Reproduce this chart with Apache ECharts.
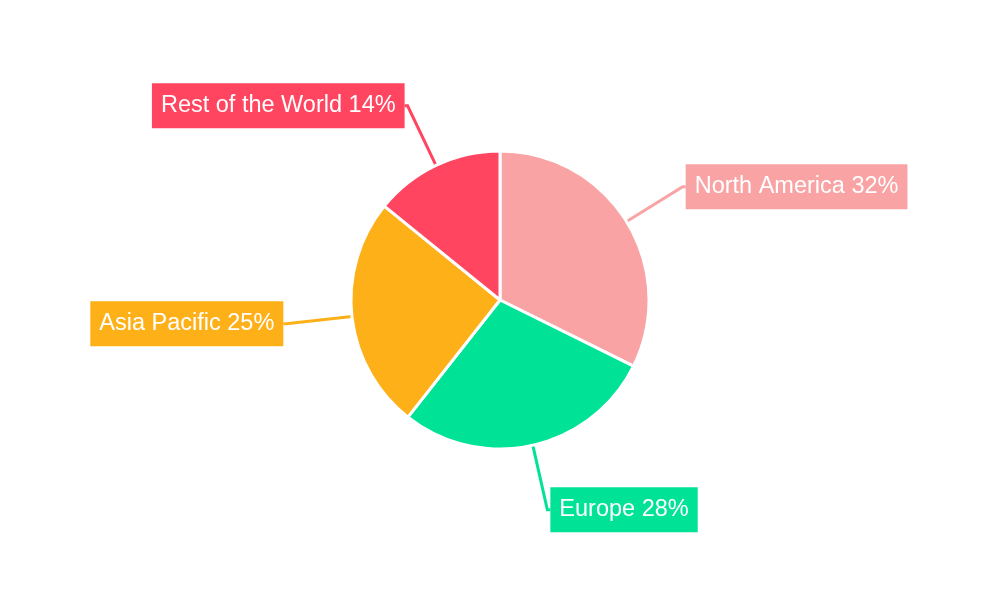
<!DOCTYPE html>
<html>
<head>
<meta charset="utf-8">
<script src="https://cdn.jsdelivr.net/npm/echarts@6/dist/echarts.min.js"></script>
<style>html,body{margin:0;background:#fff}#chart{width:1000px;height:600px}</style>
</head>
<body>
<div id="chart"></div>
<script>
const regions = ['North America', 'Europe', 'Asia Pacific', 'Rest of the World'];
const shares = [32, 28, 25, 14];
const colors = ['#f9a3a4', '#00e396', '#feb019', '#ff4560'];

const chart = echarts.init(document.getElementById('chart'));
chart.setOption({
  animation: false,
  series: [{
    type: 'pie',
    center: ['50%', '50%'],
    radius: 149,
    startAngle: 90,
    data: regions.map((name, i) => ({
      name, value: shares[i],
      itemStyle: { color: colors[i] },
      label: { backgroundColor: colors[i] }
    })),
    itemStyle: { borderColor: '#fff', borderWidth: 3 },
    label: {
      formatter: '{b} {c}%',
      color: '#fff',
      fontSize: 23.5,
      fontFamily: 'Liberation Sans, Arial, sans-serif',
      padding: [11, 9, 10, 9],
      distanceToLabelLine: 0
    },
    labelLine: { length: 66, length2: 3, lineStyle: { width: 3 } }
  }]
});
</script>
</body>
</html>
